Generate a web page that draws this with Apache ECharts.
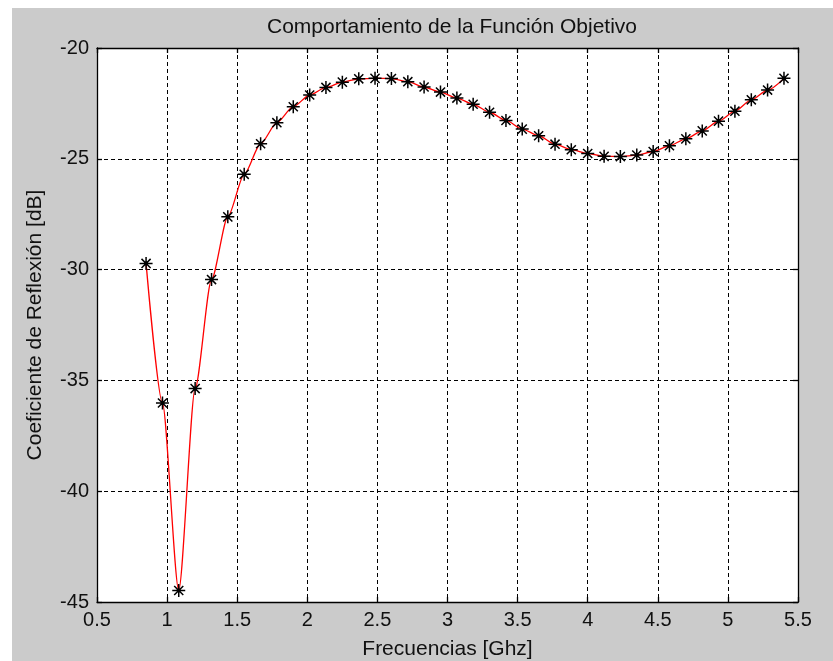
<!DOCTYPE html>
<html>
<head>
<meta charset="utf-8">
<script src="https://cdn.jsdelivr.net/npm/echarts@6/dist/echarts.min.js"></script>
<style>
  html, body { margin: 0; padding: 0; background: #ffffff; }
  #chart { width: 833px; height: 661px; }
</style>
</head>
<body>
<div id="chart"></div>
<script>
// Frequencies in GHz (sample points of the objective function)
const frecuencias = [
  0.850, 0.967, 1.083, 1.200, 1.317, 1.433, 1.550, 1.667, 1.783, 1.900,
  2.017, 2.133, 2.250, 2.367, 2.483, 2.600, 2.717, 2.833, 2.950, 3.067,
  3.183, 3.300, 3.417, 3.533, 3.650, 3.767, 3.883, 4.000, 4.117, 4.233,
  4.350, 4.467, 4.583, 4.700, 4.817, 4.933, 5.050, 5.167, 5.283, 5.400
];
// Reflection coefficient in dB at each frequency
const coeficiente = [
  -29.72, -36.02, -44.48, -35.37, -30.45, -27.62, -25.70, -24.32, -23.37, -22.65,
  -22.12, -21.78, -21.54, -21.39, -21.37, -21.38, -21.52, -21.76, -21.99, -22.26,
  -22.54, -22.90, -23.27, -23.66, -23.96, -24.34, -24.59, -24.76, -24.89, -24.90,
  -24.83, -24.67, -24.41, -24.10, -23.74, -23.30, -22.85, -22.34, -21.90, -21.37
];
// Axis ranges and tick steps
const xRange = [0.5, 5.5], xStep = 0.5;
const yRange = [-45, -20], yStep = 5;

const titulo = 'Comportamiento de la Función Objetivo';
const etiquetaX = 'Frecuencias [Ghz]';
const etiquetaY = 'Coeficiente de Reflexión [dB]';

const FONT = '"Liberation Sans", Arial, sans-serif';
const INK = '#111111';

const puntos = frecuencias.map((f, i) => [f, coeficiente[i]]);

// eight-armed asterisk marker with a small solid centre
const asterisco = 'path://M0,-1L0,1M-1,0L1,0M-0.7,-0.7L0.7,0.7M-0.7,0.7L0.7,-0.7' +
  'M-0.2,-0.2L0.2,-0.2L0.2,0.2L-0.2,0.2Z';

const chart = echarts.init(document.getElementById('chart'), null, { renderer: 'canvas' });

const boxAxis = {
  axisLine: { show: true, onZero: false, lineStyle: { color: '#000', width: 1.3 } },
  axisTick: { show: true, inside: true, length: 5, lineStyle: { color: '#000', width: 1.3 } },
  axisLabel: { show: false },
  splitLine: { show: false }
};

chart.setOption({
  animation: false,
  backgroundColor: '#ffffff',
  graphic: [{
    type: 'rect', z: -10, silent: true,
    shape: { x: 12, y: 8, width: 821, height: 653 },
    style: { fill: '#cbcbcb' }
  }],
  title: {
    text: titulo,
    left: 447, top: 12, textAlign: 'center',
    textStyle: { fontFamily: FONT, fontSize: 21, fontWeight: 'normal', color: INK }
  },
  grid: {
    left: 97, top: 48, right: 35, bottom: 59,
    outerBoundsMode: 'none',
    show: true, backgroundColor: '#ffffff', borderWidth: 0
  },
  xAxis: [{
    type: 'value', min: xRange[0], max: xRange[1], interval: xStep,
    position: 'bottom',
    name: etiquetaX, nameLocation: 'middle', nameGap: 37,
    nameTextStyle: { fontFamily: FONT, fontSize: 21, color: INK },
    axisLine: { show: true, onZero: false, lineStyle: { color: '#000', width: 1.3 } },
    axisTick: { show: true, inside: true, length: 5, lineStyle: { color: '#000', width: 1.3 } },
    axisLabel: { fontFamily: FONT, fontSize: 20, color: INK, margin: 8 },
    splitLine: { show: true, lineStyle: { color: '#000', width: 1, type: [4, 3] } }
  }, Object.assign({
    type: 'value', min: xRange[0], max: xRange[1], interval: xStep, position: 'top'
  }, boxAxis)],
  yAxis: [{
    type: 'value', min: yRange[0], max: yRange[1], interval: yStep,
    position: 'left',
    name: etiquetaY, nameLocation: 'middle', nameGap: 51, nameRotate: 90,
    nameTextStyle: { fontFamily: FONT, fontSize: 21, color: INK },
    axisLine: { show: true, onZero: false, lineStyle: { color: '#000', width: 1.3 } },
    axisTick: { show: true, inside: true, length: 5, lineStyle: { color: '#000', width: 1.3 } },
    axisLabel: { fontFamily: FONT, fontSize: 20, color: INK, margin: 8 },
    splitLine: { show: true, lineStyle: { color: '#000', width: 1, type: [4, 3] } }
  }, Object.assign({
    type: 'value', min: yRange[0], max: yRange[1], interval: yStep, position: 'right'
  }, boxAxis)],
  series: [{
    type: 'line',
    xAxisIndex: 0, yAxisIndex: 0,
    data: puntos,
    smooth: 0.25,
    smoothMonotone: 'x',
    showAllSymbol: true,
    symbol: asterisco,
    symbolSize: 13,
    lineStyle: { color: '#ff0000', width: 1.3 },
    itemStyle: { color: '#000000', borderColor: '#000000', borderWidth: 1.5 },
    emphasis: { disabled: true },
    z: 5
  }]
});
</script>
</body>
</html>
